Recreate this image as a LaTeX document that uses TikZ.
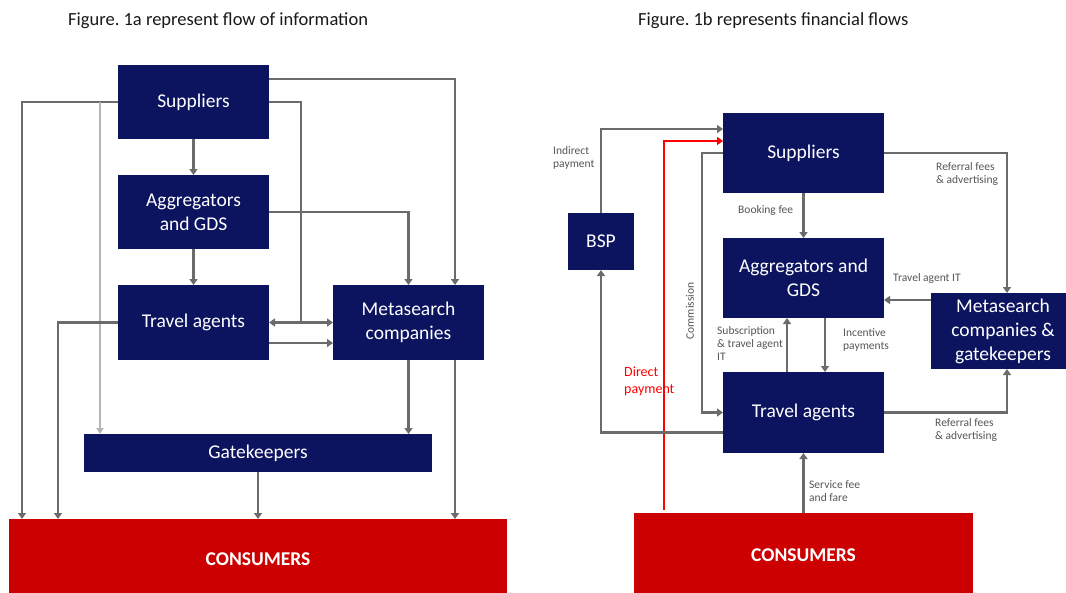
\documentclass[tikz,border=0pt]{standalone}
\usepackage{fontspec}
\setmainfont{Carlito}
\usetikzlibrary{arrows.meta}
\definecolor{navy}{HTML}{0C1460}
\definecolor{conred}{HTML}{CC0000}
\definecolor{lgray}{HTML}{6B6B6B}
\definecolor{lightln}{HTML}{B4B4B4}
\definecolor{lbl}{HTML}{555555}
\tikzset{
  box/.style={fill=navy, text=white, inner sep=0pt, outer sep=0pt, align=center,
    font=\fontsize{19.5}{24}\selectfont},
  conbox/.style={fill=conred, text=white, inner sep=0pt, outer sep=0pt,
    font=\fontsize{19.5}{24}\selectfont\bfseries},
  ln/.style={draw=lgray, line width=2.4pt},
  arr/.style={ln, -{Triangle[width=8pt,length=6pt]}},
  larr/.style={draw=lightln, line width=2pt, -{Triangle[width=7pt,length=6pt]}},
  redarr/.style={draw=red, line width=2.2pt, -{Triangle[width=8pt,length=6pt]}},
  lab/.style={text=lbl, inner sep=0pt, align=left, anchor=west,
    font=\fontsize{11.5}{13}\selectfont},
  ttl/.style={inner sep=0pt, text=black!90, font=\fontsize{18.5}{22}\selectfont},
}
\frenchspacing
\begin{document}
\begin{tikzpicture}[x=1pt,y=-1pt]
\useasboundingbox (0,0) rectangle (1066,592);
\begin{scope}
\clip (0,0) rectangle (1066,592);
% titles
\node[ttl, anchor=west] (t1) at (68,21) {Figure. 1a represent flow of information};
\node[ttl, anchor=west] (t2) at (638,21) {Figure. 1b represents financial flows};

% ---------------- Figure 1a ----------------
\node[box, minimum width=151pt, minimum height=74pt] (sup) at (193.5,102) {Suppliers};
\node[box, minimum width=151pt, minimum height=74pt] (agg) at (193.5,212) {Aggregators\\and GDS};
\node[box, minimum width=151pt, minimum height=75pt] (ta) at (193.5,322.5) {Travel agents};
\node[box, minimum width=151pt, minimum height=75pt] (ms) at (408.5,322.5) {Metasearch\\companies};
\node[box, minimum width=348pt, minimum height=38pt] (gk) at (258,453) {Gatekeepers};
\node[conbox, minimum width=498pt, minimum height=80pt] (con) at (258,559) {CONSUMERS};

\draw[arr] (sup.west) -| ([xshift=13pt]con.north west);
\draw[larr] ([xshift=-18pt]sup.west) -- ([xshift=16pt]gk.north west);
\coordinate (j) at ([xshift=32pt]ta.east);
\draw[ln] (sup.east) -| (j);
\draw[arr] (j) -- (ta.east);
\draw[arr] (j) -- (ms.west);
\draw[arr] ([yshift=23pt]sup.east) -| ([xshift=-29pt]ms.north east);
\draw[arr] (sup.south) -- (agg.north);
\draw[arr] (agg.east) -| (ms.north);
\draw[arr] (agg.south) -- (ta.north);
\draw[arr] (ta.west) -| ([xshift=49pt]con.north west);
\draw[arr] ([yshift=-20.5pt]ta.east) -- ([yshift=-20.5pt]ms.west);
\draw[arr] (ms.south) -- (ms.south |- gk.north);
\draw[arr] ([xshift=-29pt]ms.south east) -- ([xshift=-29pt]ms.south east |- con.north);
\draw[arr] (gk.south) -- (con.north);

% ---------------- Figure 1b ----------------
\node[box, minimum width=161pt, minimum height=80pt] (sup2) at (803.5,153) {Suppliers};
\node[box, minimum width=66pt, minimum height=57pt] (bsp) at (601,241.5) {BSP};
\node[box, minimum width=161pt, minimum height=80pt] (agg2) at (803.5,278) {Aggregators and\\GDS};
\node[box, minimum width=144pt, minimum height=76pt] (ms2) at (1003,331) {Metasearch\\companies \&\\gatekeepers};
\node[box, minimum width=161pt, minimum height=81pt] (ta2) at (803.5,412.5) {Travel agents};
\node[conbox, minimum width=339pt, minimum height=85pt] (con2) at (803.5,555.5) {CONSUMERS};

\draw[arr] (bsp.north) |- ([yshift=24pt]sup2.west);
\draw[redarr] ([xshift=30pt,yshift=3pt]con2.north west) |- ([yshift=12pt]sup2.west);
\draw[arr] (sup2.west) -- ++(-21,0) |- (ta2.west);
\draw[arr] ([yshift=-20pt]ta2.west) -| (bsp.south);
\draw[arr] (sup2.south) -- (agg2.north);
\draw[arr] ([xshift=-16.5pt]ta2.north) -- ([xshift=-16.5pt]agg2.south);
\draw[arr] ([xshift=21.5pt]agg2.south) -- ([xshift=21.5pt]ta2.north);
\draw[arr] ([yshift=31pt]ms2.west) -- ([yshift=31pt]ms2.west -| agg2.east);
\draw[arr] (sup2.east) -| ([xshift=4pt]ms2.north);
\draw[arr] (ta2.east) -| ([xshift=4pt]ms2.south);
\draw[arr] (con2.north) -- (ta2.south);

% labels
\node[lab] (l1) at (553,157.5) {Indirect\\payment};
\node[lab] (l2) at (738,210) {Booking fee};
\node[lab] (l3) at (936,173.5) {Referral fees\\\& advertising};
\node[lab] (l4) at (893,278) {Travel agent IT};
\node[lab] (l5) at (717,344) {Subscription\\\& travel agent\\IT};
\node[lab] (l6) at (843,340) {Incentive\\payments};
\node[lab, anchor=center, rotate=90] (l7) at (690,311) {Commission};
\node[lab, text=red, font=\fontsize{14}{17}\selectfont] (l8) at (624,381.5) {Direct\\payment};
\node[lab] (l9) at (935,430) {Referral fees\\\& advertising};
\node[lab] (l10) at (809,491.5) {Service fee\\and fare};
\end{scope}
\end{tikzpicture}
\end{document}
